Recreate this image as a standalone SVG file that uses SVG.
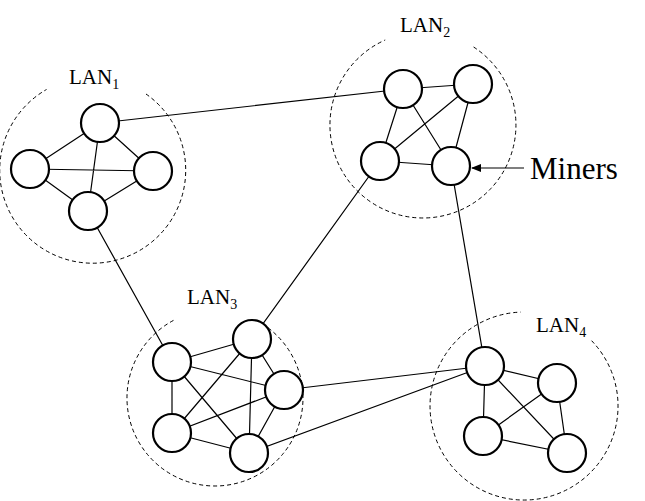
<svg xmlns="http://www.w3.org/2000/svg" width="645" height="501" viewBox="0 0 645 501">
<style>
.n{fill:#fff;stroke:#000;stroke-width:2.2}
.e{stroke:#000;stroke-width:1.2;fill:none}
.lan{fill:none;stroke:#000;stroke-width:1;stroke-dasharray:4,3}
text{font-family:"Liberation Serif",serif;fill:#000}
.l{font-size:21px}
.s{font-size:14px}
</style>
<defs><marker id="ah" markerWidth="10" markerHeight="8" refX="9" refY="4" orient="auto" markerUnits="userSpaceOnUse"><path d="M0,0 L10,4 L0,8 Z" fill="#000"/></marker></defs>
<g id="lans">
<path class="lan" d="M146,94 A93,93 0 1 1 46.5,89.5"/>
<path class="lan" d="M473.6,47 A93,93 0 1 1 385.2,40"/>
<path class="lan" d="M256.3,320.3 A88,88 0 1 1 175,319.6"/>
<path class="lan" d="M591.6,340.7 A94,94 0 1 1 520.7,312.1"/>
</g>
<g id="connectors">
<path class="e" d="M100,123L30,169M100,123L153,171M100,123L88,211M30,169L153,171M30,169L88,211M153,171L88,211"/>
<path class="e" d="M403,89L473,84M403,89L380,161M403,89L451,166M473,84L380,161M473,84L451,166M380,161L451,166"/>
<path class="e" d="M172,362L252,339M172,362L284,390M172,362L172,433M172,362L249,453M252,339L172,433M252,339L284,390M252,339L249,453M284,390L172,433M284,390L249,453M172,433L249,453"/>
<path class="e" d="M485,366L557,383M485,366L483,436M485,366L567,453M557,383L483,436M557,383L567,453M483,436L567,453"/>
<path class="e" d="M100,123L403,89M88,211L172,362M380,161L252,339M451,166L485,366M284,390L485,366M249,453L485,366"/>
<line class="e" x1="524" y1="168" x2="472" y2="168" marker-end="url(#ah)"/>
</g>
<g id="lan1"><circle class="n" cx="100" cy="123" r="19"/><circle class="n" cx="30" cy="169" r="19"/><circle class="n" cx="153" cy="171" r="19"/><circle class="n" cx="88" cy="211" r="19"/></g>
<g id="lan2"><circle class="n" cx="403" cy="89" r="19"/><circle class="n" cx="473" cy="84" r="19"/><circle class="n" cx="380" cy="161" r="19"/><circle class="n" cx="451" cy="166" r="19"/></g>
<g id="lan3"><circle class="n" cx="172" cy="362" r="19"/><circle class="n" cx="252" cy="339" r="19"/><circle class="n" cx="284" cy="390" r="19"/><circle class="n" cx="172" cy="433" r="19"/><circle class="n" cx="249" cy="453" r="19"/></g>
<g id="lan4"><circle class="n" cx="485" cy="366" r="19"/><circle class="n" cx="557" cy="383" r="19"/><circle class="n" cx="483" cy="436" r="19"/><circle class="n" cx="567" cy="453" r="19"/></g>
<g id="labels">
<text class="l" x="69" y="84">LAN<tspan class="s" dy="5">1</tspan></text>
<text class="l" x="400" y="32">LAN<tspan class="s" dy="5">2</tspan></text>
<text class="l" x="187" y="304">LAN<tspan class="s" dy="5">3</tspan></text>
<text class="l" x="536" y="332">LAN<tspan class="s" dy="5">4</tspan></text>
<text x="530" y="179" font-size="31">Miners</text>
</g>
</svg>
